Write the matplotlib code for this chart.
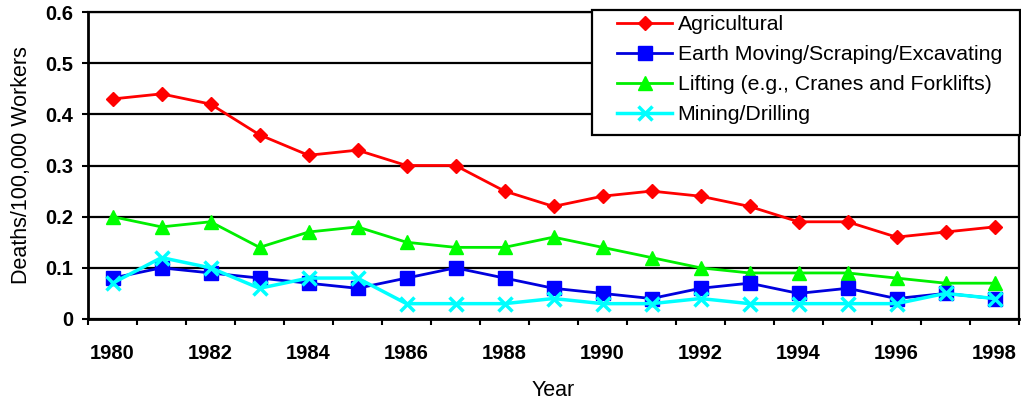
import matplotlib
matplotlib.use("Agg")
import matplotlib.pyplot as plt
from matplotlib.patches import Rectangle
import numpy as np

plt.rcParams['font.family'] = ['Liberation Sans', 'DejaVu Sans']

years = list(range(1980, 1999))
agricultural = [0.43, 0.44, 0.42, 0.36, 0.32, 0.33, 0.30, 0.30, 0.25, 0.22,
                0.24, 0.25, 0.24, 0.22, 0.19, 0.19, 0.16, 0.17, 0.18]
earth_moving = [0.08, 0.10, 0.09, 0.08, 0.07, 0.06, 0.08, 0.10, 0.08, 0.06,
                0.05, 0.04, 0.06, 0.07, 0.05, 0.06, 0.04, 0.05, 0.04]
lifting = [0.20, 0.18, 0.19, 0.14, 0.17, 0.18, 0.15, 0.14, 0.14, 0.16,
           0.14, 0.12, 0.10, 0.09, 0.09, 0.09, 0.08, 0.07, 0.07]
mining = [0.07, 0.12, 0.10, 0.06, 0.08, 0.08, 0.03, 0.03, 0.03, 0.04,
          0.03, 0.03, 0.04, 0.03, 0.03, 0.03, 0.03, 0.05, 0.04]
y_ticks = [0, 0.1, 0.2, 0.3, 0.4, 0.5, 0.6]
y_labels = ['0', '0.1', '0.2', '0.3', '0.4', '0.5', '0.6']

W, H = 1021, 404
fig = plt.figure(figsize=(W / 100, H / 100), dpi=100)
ax = fig.add_axes([88 / W, 1 - 319 / H, (1019 - 88) / W, (319 - 12) / H])

x = np.arange(len(years))
ax.plot(x, agricultural, color='#ff0000', marker='D', markersize=7, lw=2,
        label='Agricultural', zorder=5)
ax.plot(x, earth_moving, color='#0000dd', marker='s', markersize=10, lw=2,
        markerfacecolor='#0000ff', markeredgecolor='#0000ff',
        label='Earth Moving/Scraping/Excavating', zorder=4)
ax.plot(x, lifting, color='#00ee00', marker='^', markersize=10.5, lw=2,
        markerfacecolor='#00ff00', markeredgecolor='#00ff00',
        label='Lifting (e.g., Cranes and Forklifts)', zorder=3)
ax.plot(x, mining, color='#00ffff', marker='x', markersize=10.5, lw=2.5,
        markeredgewidth=2.5, label='Mining/Drilling', zorder=4)

ax.set_xlim(-0.5, len(years) - 0.5)
ax.set_ylim(0, 0.6)
ax.set_yticks(y_ticks)
ax.set_yticklabels(y_labels, fontsize=14.5, fontweight='bold')
ax.set_xticks(x[::2])
ax.set_xticklabels([str(y) for y in years[::2]], fontsize=14.5, fontweight='bold')
ax.set_xticks(np.arange(-0.5, len(years)), minor=True)
ax.tick_params(axis='x', which='major', length=0, pad=18)
ax.tick_params(axis='x', which='minor', length=4.5, width=1.5, direction='out')
ax.tick_params(axis='y', length=4.5, width=1.5, direction='out', pad=6)

ax.yaxis.grid(True, color='black', lw=1.6)
ax.set_axisbelow(True)
for side in ['left', 'bottom']:
    ax.spines[side].set_linewidth(2)
for side in ['top', 'right']:
    ax.spines[side].set_linewidth(1.6)

ax.set_xlabel('Year', fontsize=15.5, labelpad=12)
ax.set_ylabel('Deaths/100,000 Workers', fontsize=15.5, labelpad=10)

# legend box drawn separately so the handles can sit further in
box = Rectangle((592 / W, 1 - 135 / H), (1020 - 592) / W, (135 - 10) / H,
                transform=fig.transFigure, facecolor='white', edgecolor='black',
                lw=1.6, zorder=9)
fig.patches.append(box)
leg = fig.legend(loc='upper left', bbox_to_anchor=(617 / W, 1 - 15 / H),
                 bbox_transform=fig.transFigure, fontsize=15.3, frameon=False,
                 borderpad=0, labelspacing=0.52, handlelength=2.6,
                 handletextpad=0.25, borderaxespad=0)
leg.set_zorder(10)

fig.savefig('out.png', dpi=100)
